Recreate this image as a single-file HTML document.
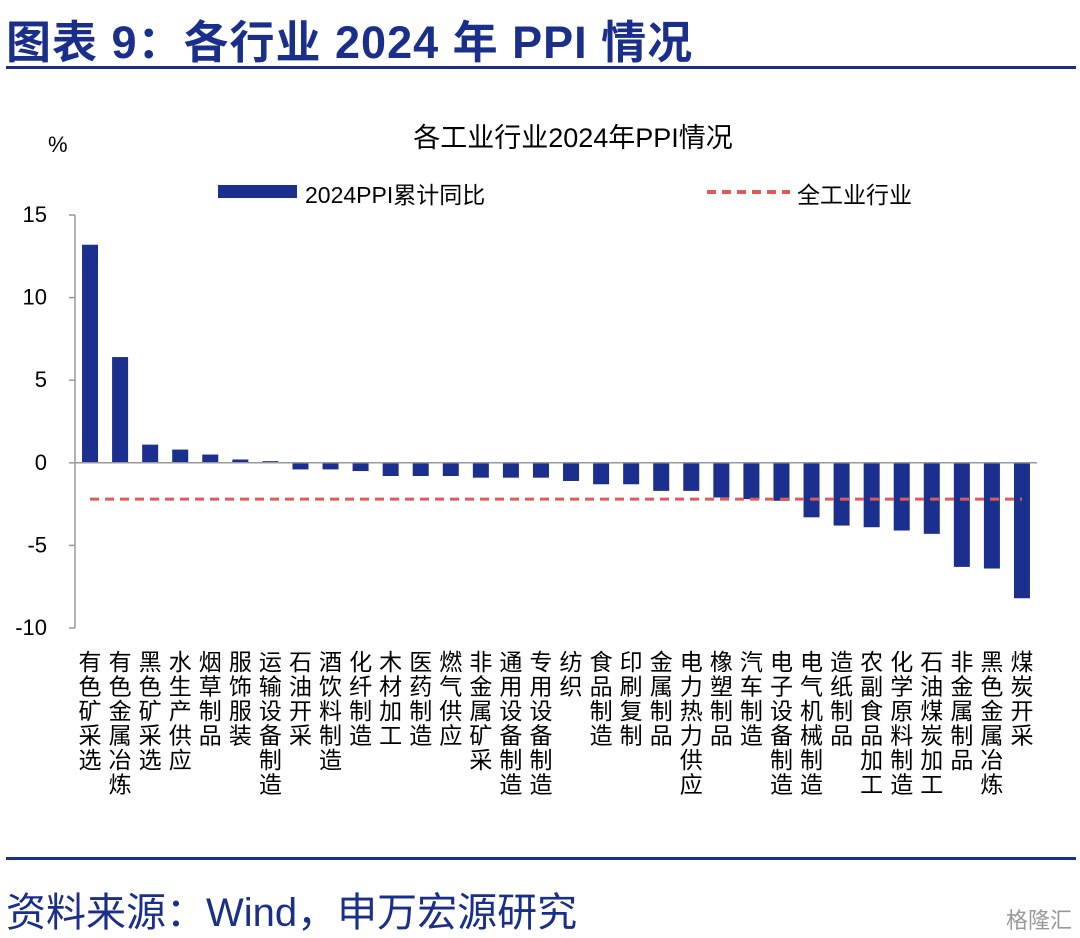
<!DOCTYPE html>
<html><head><meta charset="utf-8">
<style>
body{margin:0;background:#fff;width:1080px;height:937px;overflow:hidden;font-family:"Liberation Sans","Noto Sans CJK SC",sans-serif;}
.title{position:absolute;left:6px;top:6px;font-size:45px;font-weight:bold;color:#1a2f8a;letter-spacing:1px;white-space:nowrap;}
.src{position:absolute;left:6px;top:880px;font-size:40px;color:#1a2f8a;white-space:nowrap;}
.wm{position:absolute;right:8px;top:903px;font-size:22px;color:#999;}
</style></head><body>
<div class="title">图表 9：各行业 2024 年 PPI 情况</div>
<div style="position:absolute;left:6px;top:66px;width:1070px;height:3px;background:#1a2f8a"></div>
<svg id="chart" width="1080" height="937" style="position:absolute;left:0;top:0"></svg>
<div style="position:absolute;left:6px;top:857px;width:1070px;height:3px;background:#1a2f8a"></div>
<div class="src">资料来源：Wind，申万宏源研究</div>
<div class="wm">格隆汇</div>
<script>
const categories=["有色矿采选","有色金属冶炼","黑色矿采选","水生产供应","烟草制品","服饰服装","运输设备制造","石油开采","酒饮料制造","化纤制造","木材加工","医药制造","燃气供应","非金属矿采","通用设备制造","专用设备制造","纺织","食品制造","印刷复制","金属制品","电力热力供应","橡塑制品","汽车制造","电子设备制造","电气机械制造","造纸制品","农副食品加工","化学原料制造","石油煤炭加工","非金属制品","黑色金属冶炼","煤炭开采"];
const values=[13.2,6.4,1.1,0.8,0.5,0.2,0.1,-0.4,-0.4,-0.5,-0.8,-0.8,-0.8,-0.9,-0.9,-0.9,-1.1,-1.3,-1.3,-1.7,-1.7,-2.1,-2.2,-2.3,-3.3,-3.8,-3.9,-4.1,-4.3,-6.3,-6.4,-8.2];
const overall=-2.2;
const yTicks=[15,10,5,0,-5,-10];
const svg=document.getElementById('chart');
const NS='http://www.w3.org/2000/svg';
const x0=75,x1=1037,yTop=215,yBot=628,vMax=15,vMin=-10;
const y=v=>yTop+(vMax-v)/(vMax-vMin)*(yBot-yTop);
const step=(x1-x0)/categories.length;
const xc=i=>x0+step*(i+0.5);
function mk(t,a){const e=document.createElementNS(NS,t);for(const k in a)e.setAttribute(k,a[k]);svg.appendChild(e);return e;}
let e;
e=mk('text',{x:573,y:147,'font-size':27,'text-anchor':'middle',fill:'#000'});e.textContent='各工业行业2024年PPI情况';


e=mk('text',{x:48,y:152,'font-size':22,fill:'#000'});e.textContent='%';


e=mk('rect',{x:218,y:185,width:79,height:13,fill:'#1b2f8e'});


e=mk('text',{x:305,y:203,'font-size':23,fill:'#000'});e.textContent='2024PPI累计同比';


e=mk('line',{x1:707,y1:192,x2:790,y2:192,stroke:'#e05a5a','stroke-width':4,'stroke-dasharray':'9,6'});


e=mk('text',{x:797,y:203,'font-size':23,fill:'#000'});e.textContent='全工业行业';


e=mk('line',{x1:x0,y1:yTop,x2:x0,y2:yBot,stroke:'#999','stroke-width':1.5});


yTicks.forEach(t=>{
 e=mk('line',{x1:x0-6,y1:y(t),x2:x0,y2:y(t),stroke:'#999','stroke-width':1.5});
 
 
 e=mk('text',{x:x0-28,y:y(t)+7,'font-size':22,'text-anchor':'end',fill:'#000'});e.textContent=t;
 
 
});
values.forEach((v,i)=>{
 const a=y(Math.max(v,0)),b=y(Math.min(v,0));
 e=mk('rect',{x:xc(i)-8,y:a,width:16,height:Math.max(b-a,0.5),fill:'#1b2f8e'});
 
 
});
e=mk('line',{x1:x0,y1:y(0),x2:x1,y2:y(0),stroke:'#999','stroke-width':1.5});


e=mk('line',{x1:xc(0),y1:y(overall),x2:xc(categories.length-1),y2:y(overall),stroke:'#e05a5a','stroke-width':3,'stroke-dasharray':'9,6'});


categories.forEach((c,i)=>{
 e=mk('text',{x:xc(i),y:670,'font-size':23,'text-anchor':'middle',fill:'#000'});
 
 
 [...c].forEach((ch,j)=>{const s=document.createElementNS(NS,'tspan');s.setAttribute('x',xc(i));s.setAttribute('y',670+j*24.5);s.textContent=ch;e.appendChild(s);});
});
</script>
</body></html>
